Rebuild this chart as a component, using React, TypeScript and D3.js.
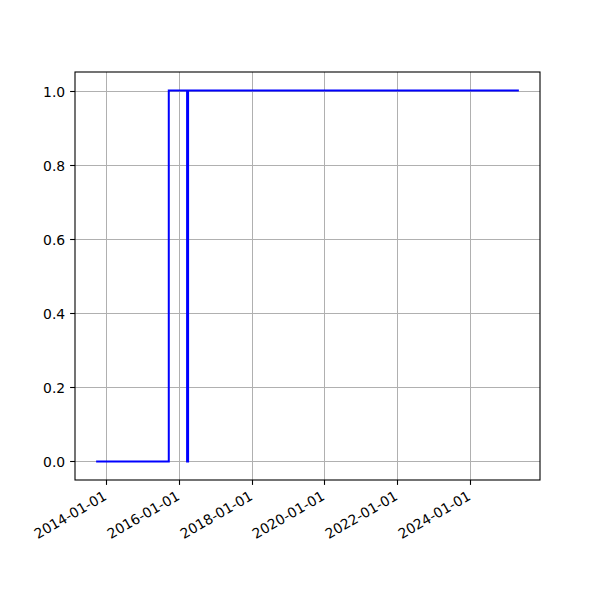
import React from "react";
import * as d3 from "d3";

const dates: string[] = ["2013-09-20", "2015-09-20", "2016-03-22", "2016-04-01", "2025-05-08"];
const values: number[] = [0, 1, 0, 1, 1];
const yTicks: number[] = [0, 0.2, 0.4, 0.6, 0.8, 1.0];
const xTickLabels: string[] = ["2014-01-01", "2016-01-01", "2018-01-01", "2020-01-01", "2022-01-01", "2024-01-01"];

export default function App() {
  const W = 600, H = 600;
  const left = 75, right = 540, top = 72, bottom = 480;
  const parse = d3.utcParse("%Y-%m-%d");
  const pts = dates.map((d, i) => ({ t: parse(d)!, v: values[i] }));
  const t0 = pts[0].t.getTime(), t1 = pts[pts.length - 1].t.getTime();
  const pad = (t1 - t0) * 0.05;
  const x = d3.scaleUtc().domain([new Date(t0 - pad), new Date(t1 + pad)]).range([left, right]);
  const y = d3.scaleLinear().domain([-0.05, 1.05]).range([bottom, top]);
  const line = d3.line<{ t: Date; v: number }>().x(d => x(d.t)).y(d => y(d.v)).curve(d3.curveStepAfter);
  const font = "DejaVu Sans, sans-serif";
  const fs = 13.9;
  return (
    <svg width={W} height={H} style={{ position: "absolute", left: 0, top: 0, background: "#fff" }}>
      <rect x={0} y={0} width={W} height={H} fill="#fff" />
      <g>
        {xTickLabels.map(l => {
          const xx = Math.round(x(parse(l)!)) + 0.5;
          return <line key={"gx" + l} x1={xx} x2={xx} y1={top} y2={bottom} stroke="#b0b0b0" strokeWidth={1} />;
        })}
        {yTicks.map(v => {
          const yy = Math.round(y(v)) + 0.5;
          return <line key={"gy" + v} x1={left} x2={right} y1={yy} y2={yy} stroke="#b0b0b0" strokeWidth={1} />;
        })}
      </g>
      <path d={line(pts)!} fill="none" stroke="#0000ff" strokeWidth={2} />
      <rect x={left} y={top} width={right - left} height={bottom - top} fill="none" stroke="#000" strokeWidth={1.1} />
      {xTickLabels.map(l => {
        const xx = Math.round(x(parse(l)!)) + 0.5;
        const tx = xx - 4;
        const ty = bottom + 4.9 + 4.9;
        return (
          <g key={"xt" + l}>
            <line x1={xx} x2={xx} y1={bottom} y2={bottom + 4.9} stroke="#000" strokeWidth={1.1} />
            <text x={tx} y={ty} transform={`rotate(-30 ${tx} ${ty})`} textAnchor="end" dominantBaseline="hanging" fontFamily={font} fontSize={fs} fill="#000">{l}</text>
          </g>
        );
      })}
      {yTicks.map(v => {
        const yy = Math.round(y(v)) + 0.5;
        return (
          <g key={"yt" + v}>
            <line x1={left - 4.9} x2={left} y1={yy} y2={yy} stroke="#000" strokeWidth={1.1} />
            <text x={left - 9.8} y={yy} textAnchor="end" dominantBaseline="central" fontFamily={font} fontSize={fs} fill="#000">{v.toFixed(1)}</text>
          </g>
        );
      })}
    </svg>
  );
}
